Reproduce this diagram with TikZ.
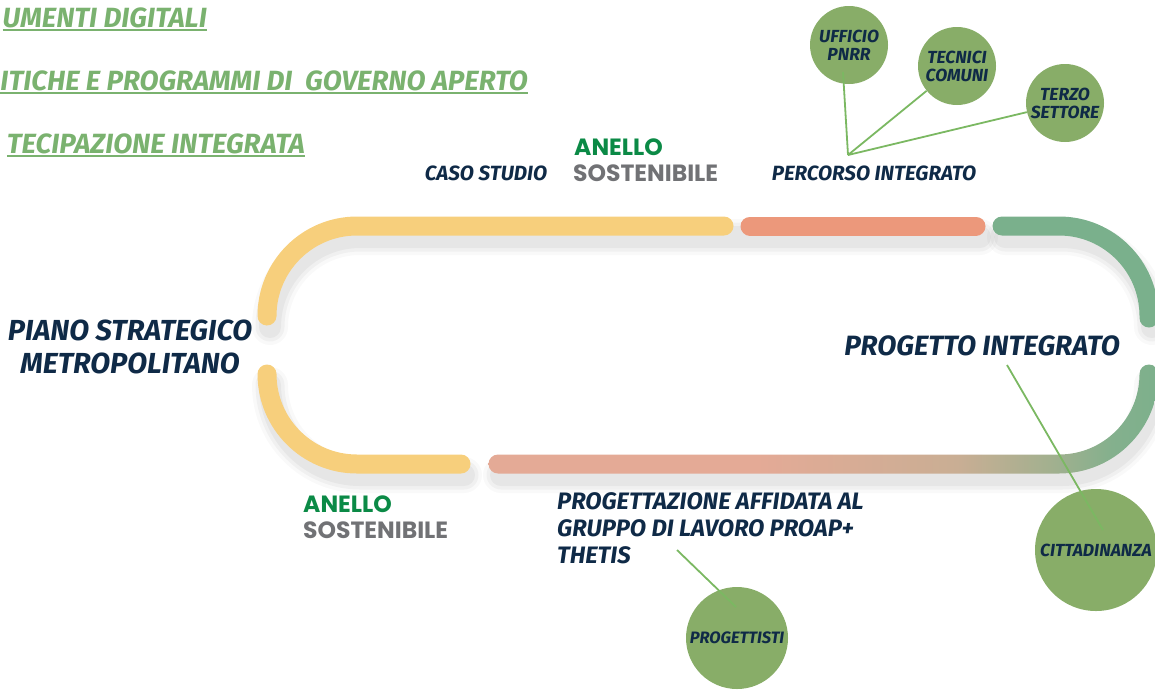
\documentclass[tikz,border=0pt]{standalone}
\usepackage{fontspec}
\setmainfont{Fira Sans}
\newfontfamily\geo{Poppins}
\usetikzlibrary{calc}
\definecolor{ryellow}{HTML}{F7CF7C}
\definecolor{rsalmon}{HTML}{EC987B}
\definecolor{rgreen}{HTML}{7AB08C}
\definecolor{bsalmon}{HTML}{E4AA96}
\definecolor{btan}{HTML}{C9AE94}
\definecolor{bgrey}{HTML}{A2B08F}
\definecolor{bgreen}{HTML}{84B08D}
\definecolor{bgreenend}{HTML}{7DB08C}
\definecolor{cfill}{HTML}{88AD68}
\definecolor{lgreen}{HTML}{7BB862}
\definecolor{hgreen}{HTML}{7AB26F}
\definecolor{navy}{HTML}{0F2A47}
\definecolor{agreen}{HTML}{0B8A46}
\definecolor{agray}{HTML}{717275}
\newcommand\ulx[1]{\setbox0\hbox{#1}\rlap{\rule[-3.5pt]{\wd0}{1.4pt}}\box0}
\pgfdeclarehorizontalshading{bottomgrad}{100bp}{color(0bp)=(bsalmon); color(25bp)=(bsalmon); color(45bp)=(bsalmon); color(60bp)=(btan); color(67bp)=(bgrey); color(71.5bp)=(bgreen); color(75bp)=(bgreenend); color(100bp)=(bgreenend)}
\tikzset{
  band/.style={line width=19pt, line cap=round},
  shad/.style={line cap=round, draw=black},
  lab/.style={inner sep=0pt, text=navy, font=\bfseries\itshape},
  head/.style={inner sep=0pt, text=hgreen, font=\fontsize{27.8}{32}\selectfont\bfseries\itshape},
  anl/.style={inner sep=0pt, font=\geo\fontsize{23.5}{26}\selectfont\bfseries},
  bubble/.style={circle, fill=cfill, inner sep=0pt, text=navy, align=center, font=\fontsize{17.5}{20}\selectfont\bfseries\itshape},
  conn/.style={draw=lgreen, line width=1.8pt},
}
\begin{document}
\begin{tikzpicture}[x=1pt,y=-1pt]
\useasboundingbox (0,0) rectangle (1155,689);
% shadows
\foreach \w/\o in {36/0.025,29/0.035,22/0.045}{
  \begin{scope}[shift={(3,11)}]
  \draw[shad, line width=\w pt, opacity=\o] (267,316) arc (180:270:90) -- (977,226);
  \draw[shad, line width=\w pt, opacity=\o] (1002,226) -- (1059,226) arc (270:360:90);
  \draw[shad, line width=\w pt, opacity=\o] (267,374) arc (180:90:90) -- (461,464);
  \draw[shad, line width=\w pt, opacity=\o] (498,464) -- (1059,464) arc (90:0:90);
  \end{scope}
}
% ring
\draw[band, ryellow] (267,316) arc (180:270:90) -- (724,226);
\draw[band, rsalmon] (750,226) -- (976,226);
\draw[band, rgreen] (1002,226) -- (1059,226) arc (270:360:90) -- (1149,318);
\draw[band, ryellow] (267,374) arc (180:90:90) -- (461,464);
\shade[shading=bottomgrad]
  (498,454.5) -- (1059,454.5) arc (90:0:80.5) arc (180:360:9.5) arc (0:90:99.5) -- (498,473.5) arc (90:270:9.5) -- cycle;
% headings
\node[head, anchor=base east] (h1) at (207,27) {\ulx{UMENTI DIGITALI}};
\node[head, anchor=base east] (h2) at (528,90) {\ulx{ITICHE E PROGRAMMI DI \ GOVERNO APERTO}};
\node[head, anchor=base east] (h3) at (305,153) {\ulx{TECIPAZIONE INTEGRATA}};
% labels
\node[lab, font=\fontsize{20.6}{23}\selectfont\bfseries\itshape] (caso) at (486,173) {CASO STUDIO};
\node[anl, anchor=west, text=agreen] (an1) at (574,147) {ANELLO};
\node[anl, anchor=west, text=agray] (so1) at (573,173) {SOSTENIBILE};
\node[lab, font=\fontsize{20.6}{23}\selectfont\bfseries\itshape] (perc) at (874,173) {PERCORSO INTEGRATO};
\node[lab, align=center, font=\fontsize{29}{33}\selectfont\bfseries\itshape] (piano) at (130,347) {PIANO STRATEGICO\\METROPOLITANO};
\node[lab, font=\fontsize{27.9}{30}\selectfont\bfseries\itshape] (prog) at (982,346) {PROGETTO INTEGRATO};
\node[anl, anchor=west, text=agreen] (an2) at (303,504) {ANELLO};
\node[anl, anchor=west, text=agray] (so2) at (303,530) {SOSTENIBILE};
\node[lab, anchor=west, align=left, font=\fontsize{23.8}{27}\selectfont\bfseries\itshape] (affid) at (557,528) {PROGETTAZIONE AFFIDATA AL\\GRUPPO DI LAVORO PROAP+\\THETIS};
% bubbles
\node[bubble, minimum size=78pt] (pnrr) at (849,45) {UFFICIO\\[-2pt]PNRR};
\node[bubble, minimum size=78pt] (tecn) at (957,66) {TECNICI\\[-2pt]COMUNI};
\node[bubble, minimum size=78pt] (terzo) at (1065,103) {TERZO\\[-2pt]SETTORE};
\node[bubble, minimum size=102pt, font=\fontsize{16.5}{20}\selectfont\bfseries\itshape] (progt) at (737,638) {PROGETTISTI};
\node[bubble, minimum size=122pt] (citt) at (1096,550) {CITTADINANZA};
% connectors
\coordinate (ap) at (848,155);
\coordinate (pnrrend) at ($(pnrr.center)+(-6,27)$);
\coordinate (thet) at (677,550);
\coordinate (progtend) at ($(progt.center)+(-1,-31)$);
\coordinate (progstart) at (1007,365);
\coordinate (cittend) at ($(citt.center)+(7,-20)$);
\draw[conn] (ap) -- (pnrrend);
\draw[conn] (ap) -- (tecn);
\draw[conn] (ap) -- (terzo);
\draw[conn] (thet) -- (progtend);
\draw[conn] (progstart) -- (cittend);
\end{tikzpicture}
\end{document}
